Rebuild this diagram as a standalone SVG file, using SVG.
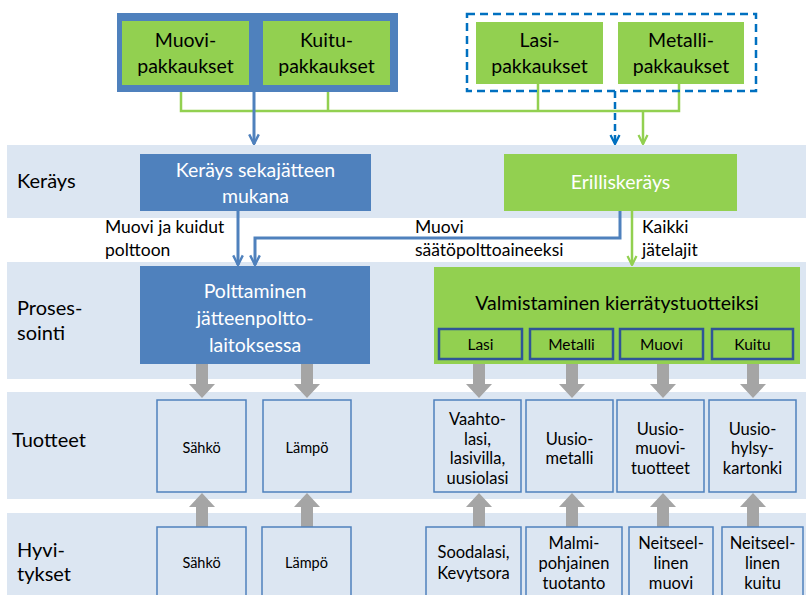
<svg xmlns="http://www.w3.org/2000/svg" width="806" height="595" viewBox="0 0 806 595">
<defs>
<style>
text{font-family:Lato,"Liberation Sans",sans-serif;}
.band{fill:#dce6f2;}
.g{fill:#92d050;}
.b{fill:#4f81bd;}
.t19{font-size:19.5px;fill:#000;text-anchor:middle;}
.w19{font-size:19.5px;fill:#fff;text-anchor:middle;}
.lbl{font-size:20px;fill:#000;}
.e16{font-size:17.5px;fill:#000;}
.sub{fill:#92d050;stroke:#2f5597;stroke-width:2.5;}
.s15{font-size:15.5px;fill:#000;text-anchor:middle;}
.pb{fill:#dce6f2;stroke:#4f81bd;stroke-width:1.5;}
.p15{font-size:16.5px;fill:#000;text-anchor:middle;}
.p14{font-size:14.5px;fill:#000;text-anchor:middle;}
.gl{fill:none;stroke:#92d050;stroke-width:2.5;}
.bl{fill:none;stroke:#4f81bd;stroke-width:3;}
.bd{fill:none;stroke:#0070c0;stroke-width:2.5;stroke-dasharray:7 4;}
.ga{fill:#a5a5a5;}
</style>
<marker id="ab" viewBox="0 0 10 10" refX="9" refY="5" markerWidth="4" markerHeight="4" orient="auto"><path d="M1,1 L9,5 L1,9" fill="none" stroke="#4f81bd" stroke-width="2"/></marker>
<marker id="ad" viewBox="0 0 10 10" refX="9" refY="5" markerWidth="4.5" markerHeight="4.5" orient="auto"><path d="M1,1 L9,5 L1,9" fill="none" stroke="#0070c0" stroke-width="2"/></marker>
<marker id="ag" viewBox="0 0 10 10" refX="9" refY="5" markerWidth="4.5" markerHeight="4.5" orient="auto"><path d="M1,1 L9,5 L1,9" fill="none" stroke="#92d050" stroke-width="2"/></marker>
<path id="down" d="M-6,0 H6 V20 H13 L0,34 L-13,20 H-6 Z"/>
<path id="up" d="M-6,34 H6 V14 H13 L0,0 L-13,14 H-6 Z"/>
</defs>

<g id="bands">
<rect class="band" x="7" y="145" width="799" height="73"/>
<rect class="band" x="7" y="262" width="799" height="117"/>
<rect class="band" x="7" y="392" width="799" height="107"/>
<rect class="band" x="7" y="513" width="799" height="82"/>
<text class="lbl" x="17" y="188">Keräys</text>
<text class="lbl" x="17" y="315">Proses-</text>
<text class="lbl" x="17" y="340">sointi</text>
<text class="lbl" x="12" y="447">Tuotteet</text>
<text class="lbl" x="17" y="557">Hyvi-</text>
<text class="lbl" x="17" y="581">tykset</text>
</g>

<g id="connectors">
<path class="gl" d="M181,85 V111 H679 V84 M328,85 V111 M538,84 V111"/>
<path class="gl" d="M643,111 V144" marker-end="url(#ag)"/>
<path class="bl" d="M254,92 V144" marker-end="url(#ab)"/>
<path class="bd" d="M615,91 V144" marker-end="url(#ad)"/>
<path class="bl" d="M238,211 V265" marker-end="url(#ab)"/>
<path class="bl" d="M620,211 V238 H255 V265" marker-end="url(#ab)"/>
<path class="gl" d="M632,211 V265" marker-end="url(#ag)"/>
<use href="#down" class="ga" x="202" y="364"/>
<use href="#down" class="ga" x="307" y="364"/>
<use href="#down" class="ga" x="479" y="364"/>
<use href="#down" class="ga" x="572" y="364"/>
<use href="#down" class="ga" x="663" y="364"/>
<use href="#down" class="ga" x="753" y="364"/>
<use href="#up" class="ga" x="202" y="493"/>
<use href="#up" class="ga" x="307" y="493"/>
<use href="#up" class="ga" x="479" y="493"/>
<use href="#up" class="ga" x="572" y="493"/>
<use href="#up" class="ga" x="663" y="493"/>
<use href="#up" class="ga" x="753" y="493"/>
<text class="e16" x="105" y="233">Muovi ja kuidut</text>
<text class="e16" x="105" y="256">polttoon</text>
<text class="e16" x="415" y="233">Muovi</text>
<text class="e16" x="415" y="256">säätöpolttoaineeksi</text>
<text class="e16" x="642" y="233">Kaikki</text>
<text class="e16" x="642" y="256">jätelajit</text>
</g>

<g id="mixed-group"><rect class="b" x="117" y="13" width="281" height="79"/></g>
<g id="muovi-pak"><rect class="g" x="122" y="21" width="127" height="64"/>
<text class="t19" x="185.5" y="47">Muovi-</text><text class="t19" x="185.5" y="73">pakkaukset</text></g>
<g id="kuitu-pak"><rect class="g" x="263" y="21" width="127" height="64"/>
<text class="t19" x="326.5" y="47">Kuitu-</text><text class="t19" x="326.5" y="73">pakkaukset</text></g>

<g id="separate-group"><rect x="467" y="14" width="289" height="77" fill="none" stroke="#0070c0" stroke-width="2.5" stroke-dasharray="8 5"/></g>
<g id="lasi-pak"><rect class="g" x="476" y="22" width="127" height="62"/>
<text class="t19" x="539.5" y="47">Lasi-</text><text class="t19" x="539.5" y="73">pakkaukset</text></g>
<g id="metalli-pak"><rect class="g" x="618" y="22" width="126" height="62"/>
<text class="t19" x="681" y="47">Metalli-</text><text class="t19" x="681" y="73">pakkaukset</text></g>

<g id="kerays-seka"><rect class="b" x="140" y="154" width="231" height="57"/>
<text class="w19" x="255.5" y="177">Keräys sekajätteen</text><text class="w19" x="255.5" y="203">mukana</text></g>
<g id="erilliskerays"><rect class="g" x="504" y="154" width="233" height="57"/>
<text class="w19" x="620.5" y="189">Erilliskeräys</text></g>

<g id="polttaminen"><rect class="b" x="140" y="266" width="230" height="98"/>
<text class="w19" x="255" y="298">Polttaminen</text><text class="w19" x="255" y="325">jätteenpoltto-</text><text class="w19" x="255" y="352">laitoksessa</text></g>

<g id="valmistaminen"><rect class="g" x="434" y="267" width="366" height="97"/>
<text class="t19" x="617" y="310">Valmistaminen kierrätystuotteiksi</text>
<g id="v-lasi"><rect class="sub" x="439" y="329" width="83" height="30"/><text class="s15" x="480.5" y="350">Lasi</text></g>
<g id="v-metalli"><rect class="sub" x="530" y="329" width="83" height="30"/><text class="s15" x="571.5" y="350">Metalli</text></g>
<g id="v-muovi"><rect class="sub" x="620" y="329" width="83" height="30"/><text class="s15" x="661.5" y="350">Muovi</text></g>
<g id="v-kuitu"><rect class="sub" x="712" y="329" width="81" height="30"/><text class="s15" x="752.5" y="350">Kuitu</text></g>
</g>

<g id="t-sahko"><rect class="pb" x="157" y="400" width="89" height="92"/><text class="p14" x="201.5" y="453">Sähkö</text></g>
<g id="t-lampo"><rect class="pb" x="263" y="400" width="88" height="92"/><text class="p14" x="307" y="453">Lämpö</text></g>
<g id="t-lasi"><rect class="pb" x="434" y="400" width="87" height="92"/>
<text class="p15" x="477.5" y="425">Vaahto-</text><text class="p15" x="477.5" y="445">lasi,</text><text class="p15" x="477.5" y="464">lasivilla,</text><text class="p15" x="477.5" y="484">uusiolasi</text></g>
<g id="t-metalli"><rect class="pb" x="526" y="400" width="87" height="92"/>
<text class="p15" x="569.5" y="445">Uusio-</text><text class="p15" x="569.5" y="464">metalli</text></g>
<g id="t-muovi"><rect class="pb" x="617" y="400" width="87" height="92"/>
<text class="p15" x="660.5" y="435">Uusio-</text><text class="p15" x="660.5" y="454">muovi-</text><text class="p15" x="660.5" y="474">tuotteet</text></g>
<g id="t-kuitu"><rect class="pb" x="709" y="400" width="87" height="92"/>
<text class="p15" x="752.5" y="435">Uusio-</text><text class="p15" x="752.5" y="454">hylsy-</text><text class="p15" x="752.5" y="474">kartonki</text></g>

<g id="h-sahko"><rect class="pb" x="157" y="527" width="89" height="80"/><text class="p14" x="201.5" y="568">Sähkö</text></g>
<g id="h-lampo"><rect class="pb" x="262" y="527" width="89" height="80"/><text class="p14" x="306.5" y="568">Lämpö</text></g>
<g id="h-lasi"><rect class="pb" x="426" y="527" width="95" height="80"/>
<text class="p15" x="473.5" y="558">Soodalasi,</text><text class="p15" x="473.5" y="579">Kevytsora</text></g>
<g id="h-metalli"><rect class="pb" x="526" y="527" width="96" height="80"/>
<text class="p15" x="574" y="549">Malmi-</text><text class="p15" x="574" y="569">pohjainen</text><text class="p15" x="574" y="589">tuotanto</text></g>
<g id="h-muovi"><rect class="pb" x="629" y="527" width="84" height="80"/>
<text class="p15" x="671" y="549">Neitseel-</text><text class="p15" x="671" y="569">linen</text><text class="p15" x="671" y="589">muovi</text></g>
<g id="h-kuitu"><rect class="pb" x="722" y="527" width="81" height="80"/>
<text class="p15" x="762.5" y="549">Neitseel-</text><text class="p15" x="762.5" y="569">linen</text><text class="p15" x="762.5" y="589">kuitu</text></g>
</svg>
